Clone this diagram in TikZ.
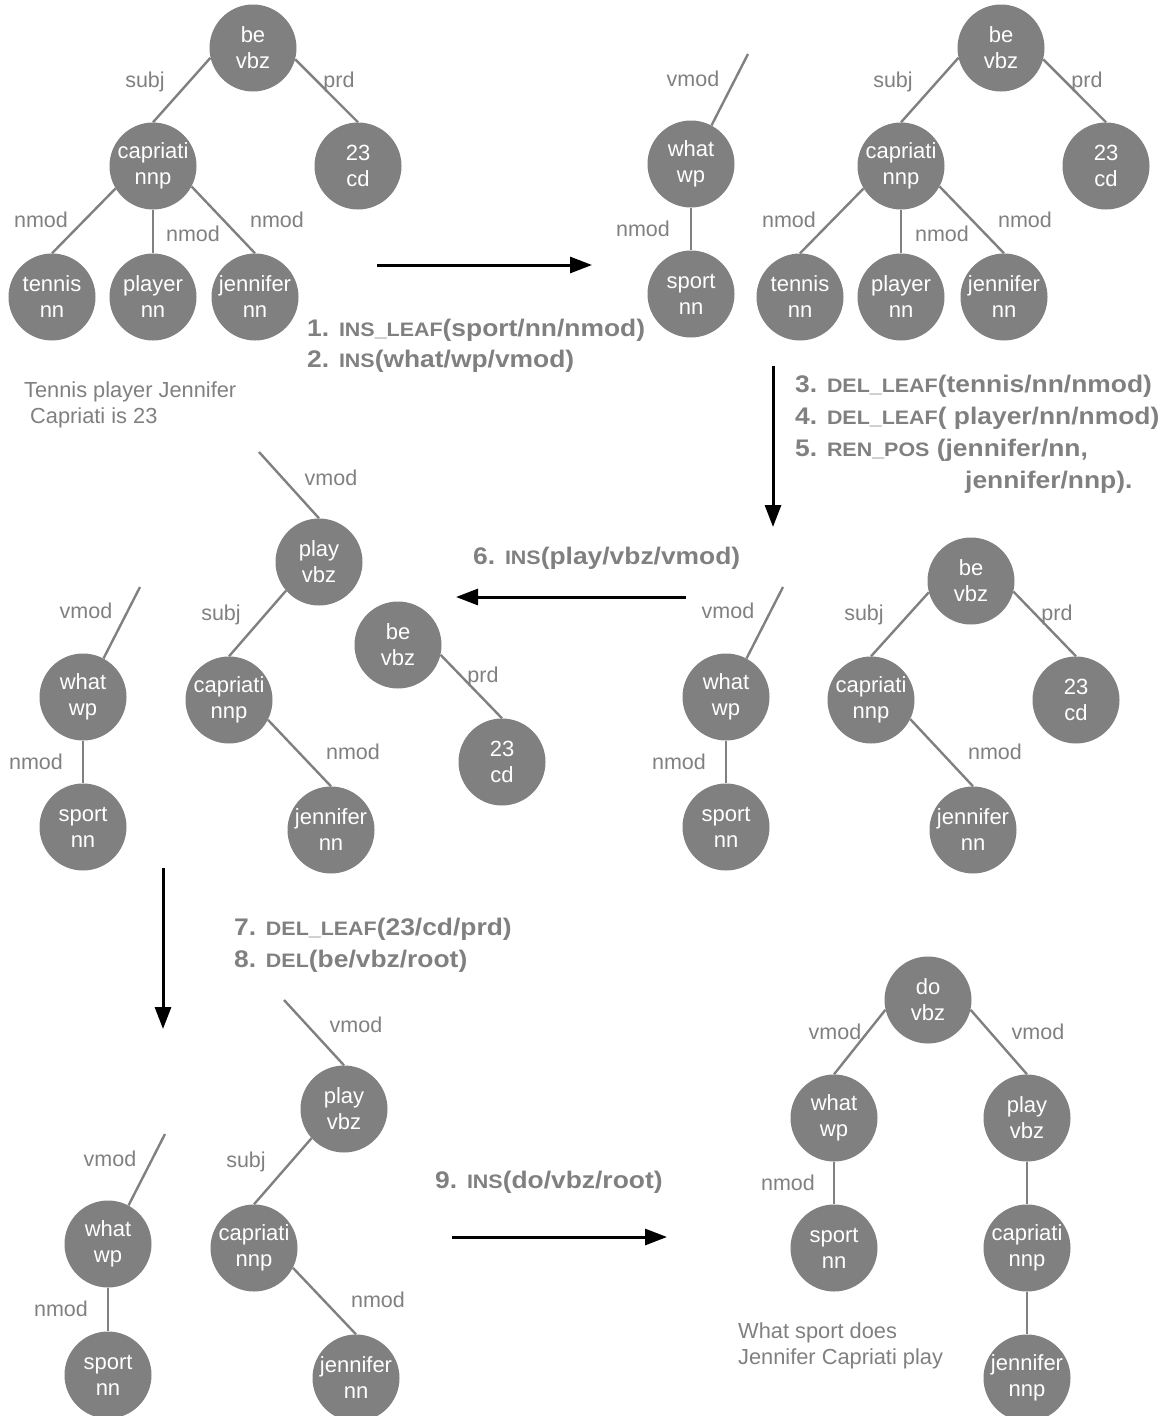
\documentclass[tikz,border=0pt]{standalone}
\usepackage{fontspec}
\setmainfont{Liberation Sans}
\usepackage{xcolor}
\usepackage{graphicx}
\usetikzlibrary{arrows.meta, positioning}
\definecolor{treegray}{HTML}{808080}
\definecolor{labgray}{HTML}{808080}
\newcommand{\opname}[1]{{\fontsize{19.5}{19.5}\selectfont #1}}
\newcommand{\opline}[1]{\scalebox{1.1}[1]{#1}}

\begin{document}
\begin{tikzpicture}[
		x=1pt, y=-1pt,
		tnode/.style={
			circle,
			fill=treegray,
			text=white,
			minimum size=87pt,
			inner sep=0pt,
			align=center,
			font=\fontsize{22}{26}\selectfont
		},
		lab/.style={
			text=labgray,
			inner sep=0pt,
			font=\fontsize{21.5}{24}\selectfont
		},
		edge/.style={draw=treegray, line width=2.4pt},
		optext/.style={
			anchor=west,
			text=labgray,
			inner sep=0pt,
			font=\fontsize{24}{30}\selectfont\bfseries
		},
		sentence/.style={
			anchor=west,
			align=left,
			text=labgray,
			inner sep=0pt,
			font=\fontsize{21.8}{26}\selectfont
		},
		flow/.style={draw=black, line width=3pt, -{Triangle[length=22pt,width=16pt]}}
		]
		
		\useasboundingbox (0,0) rectangle (1171,1416);
		
		% Tree 1: source sentence
		\node[tnode] (be1) at (253,48) {be\\vbz};
		\node[tnode] (cap1) at (153,166) {capriati\\nnp};
		\node[tnode] (num1) at (358,166) {23\\cd};
		\node[tnode] (ten1) at (52,297) {tennis\\nn};
		\node[tnode] (pla1) at (153,297) {player\\nn};
		\node[tnode] (jen1) at (255,297) {jennifer\\nn};
		\draw[edge] (be1.193) -- (cap1.north);
		\draw[edge] (be1.345) -- (num1.north);
		\draw[edge] (cap1.211) -- (ten1.north);
		\draw[edge] (cap1.south) -- (pla1.north);
		\draw[edge] (cap1.332) -- (jen1.north);
		\node[lab] (l1a) at (145,82) {subj};
		\node[lab] (l1b) at (339,82) {prd};
		\node[lab] (l1c) at (41,220) {nmod};
		\node[lab] (l1d) at (193,234) {nmod};
		\node[lab] (l1e) at (277,220) {nmod};
		\node[sentence] (src) at (24,405) {Tennis player Jennifer\\\hspace{6pt}Capriati is 23};
		
		% Step 1-2
		\coordinate (a1s) at (377,265);
		\coordinate (a1e) at (592,265);
		\draw[flow] (a1s) -- (a1e);
		\node[optext] (op1) at (307,330) {\opline{1. \opname{INS\_LEAF}(sport/nn/nmod)}};
		\node[optext] (op2) at (307,361) {\opline{2. \opname{INS}(what/wp/vmod)}};
		
		% Tree 2
		\node[tnode] (wha2) at (691,164) {what\\wp};
		\node[tnode] (spo2) at (691,294) {sport\\nn};
		\coordinate (top2) at (748,54);
		\draw[edge] (wha2.62) -- (top2);
		\draw[edge] (wha2.south) -- (spo2.north);
		\node[lab] (l2a) at (693,79) {vmod};
		\node[lab] (l2b) at (643,229) {nmod};
		\node[tnode] (be2) at (1001,48) {be\\vbz};
		\node[tnode] (cap2) at (901,166) {capriati\\nnp};
		\node[tnode] (num2) at (1106,166) {23\\cd};
		\node[tnode] (ten2) at (800,297) {tennis\\nn};
		\node[tnode] (pla2) at (901,297) {player\\nn};
		\node[tnode] (jen2) at (1004,297) {jennifer\\nn};
		\draw[edge] (be2.193) -- (cap2.north);
		\draw[edge] (be2.345) -- (num2.north);
		\draw[edge] (cap2.211) -- (ten2.north);
		\draw[edge] (cap2.south) -- (pla2.north);
		\draw[edge] (cap2.332) -- (jen2.north);
		\node[lab] (l2c) at (893,82) {subj};
		\node[lab] (l2d) at (1087,82) {prd};
		\node[lab] (l2e) at (789,220) {nmod};
		\node[lab] (l2f) at (942,234) {nmod};
		\node[lab] (l2g) at (1025,220) {nmod};
		
		% Step 3-5
		\coordinate (a2s) at (773,366);
		\coordinate (a2e) at (773,527);
		\draw[flow] (a2s) -- (a2e);
		\node[optext] (op3) at (795,386) {\opline{3. \opname{DEL\_LEAF}(tennis/nn/nmod)}};
		\node[optext] (op4) at (795,418) {\opline{4. \opname{DEL\_LEAF}( player/nn/nmod)}};
		\node[optext] (op5) at (795,450) {\opline{5. \opname{REN\_POS} (jennifer/nn,}};
		\node[optext] (op5b) at (965,482) {\opline{jennifer/nnp).}};
		
		% Tree 3
		\node[tnode] (wha3) at (726,697) {what\\wp};
		\node[tnode] (spo3) at (726,827) {sport\\nn};
		\coordinate (top3) at (783,587);
		\draw[edge] (wha3.62) -- (top3);
		\draw[edge] (wha3.south) -- (spo3.north);
		\node[lab] (l3a) at (728,611) {vmod};
		\node[lab] (l3b) at (679,762) {nmod};
		\node[tnode] (be3) at (971,581) {be\\vbz};
		\node[tnode] (cap3) at (871,700) {capriati\\nnp};
		\node[tnode] (num3) at (1076,700) {23\\cd};
		\node[tnode] (jen3) at (973,830) {jennifer\\nn};
		\draw[edge] (be3.195) -- (cap3.north);
		\draw[edge] (be3.346) -- (num3.north);
		\draw[edge] (cap3.334) -- (jen3.north);
		\node[lab] (l3c) at (864,615) {subj};
		\node[lab] (l3d) at (1057,615) {prd};
		\node[lab] (l3e) at (995,752) {nmod};
		
		% Step 6
		\coordinate (a3s) at (686,597);
		\coordinate (a3e) at (456,597);
		\draw[flow] (a3s) -- (a3e);
		\node[optext] (op6) at (473,558) {\opline{6. \opname{INS}(play/vbz/vmod)}};
		
		% Tree 4
		\node[tnode] (pla4) at (319,562) {play\\vbz};
		\node[tnode] (cap4) at (229,700) {capriati\\nnp};
		\node[tnode] (jen4) at (331,830) {jennifer\\nn};
		\coordinate (top4a) at (259,452);
		\draw[edge] (top4a) -- (pla4.north);
		\draw[edge] (pla4.221) -- (cap4.north);
		\draw[edge] (cap4.333) -- (jen4.north);
		\node[lab] (l4a) at (331,478) {vmod};
		\node[lab] (l4b) at (221,615) {subj};
		\node[lab] (l4c) at (353,752) {nmod};
		\node[tnode] (wha4) at (83,697) {what\\wp};
		\node[tnode] (spo4) at (83,827) {sport\\nn};
		\coordinate (top4b) at (140,587);
		\draw[edge] (wha4.62) -- (top4b);
		\draw[edge] (wha4.south) -- (spo4.north);
		\node[lab] (l4d) at (86,611) {vmod};
		\node[lab] (l4e) at (36,762) {nmod};
		\node[tnode] (be4) at (398,645) {be\\vbz};
		\node[tnode] (num4) at (502,762) {23\\cd};
		\draw[edge] (be4.347) -- (num4.north);
		\node[lab] (l4f) at (483,677) {prd};
		
		% Step 7-8
		\coordinate (a4s) at (163,868);
		\coordinate (a4e) at (163,1029);
		\draw[flow] (a4s) -- (a4e);
		\node[optext] (op7) at (234,929) {\opline{7. \opname{DEL\_LEAF}(23/cd/prd)}};
		\node[optext] (op8) at (234,961) {\opline{8. \opname{DEL}(be/vbz/root)}};
		
		% Tree 5
		\node[tnode] (pla5) at (344,1109) {play\\vbz};
		\node[tnode] (cap5) at (254,1248) {capriati\\nnp};
		\node[tnode] (jen5) at (356,1378) {jennifer\\nn};
		\coordinate (top5a) at (284,1000);
		\draw[edge] (top5a) -- (pla5.north);
		\draw[edge] (pla5.222) -- (cap5.north);
		\draw[edge] (cap5.333) -- (jen5.north);
		\node[lab] (l5a) at (356,1025) {vmod};
		\node[lab] (l5b) at (246,1162) {subj};
		\node[lab] (l5c) at (378,1300) {nmod};
		\node[tnode] (wha5) at (108,1244) {what\\wp};
		\node[tnode] (spo5) at (108,1375) {sport\\nn};
		\coordinate (top5b) at (165,1134);
		\draw[edge] (wha5.62) -- (top5b);
		\draw[edge] (wha5.south) -- (spo5.north);
		\node[lab] (l5d) at (110,1159) {vmod};
		\node[lab] (l5e) at (61,1309) {nmod};
		
		% Step 9
		\coordinate (a5s) at (452,1237);
		\coordinate (a5e) at (667,1237);
		\draw[flow] (a5s) -- (a5e);
		\node[optext] (op9) at (435,1182) {\opline{9. \opname{INS}(do/vbz/root)}};
		
		% Tree 6: target question
		\node[tnode] (do6) at (928,1000) {do\\vbz};
		\node[tnode] (wha6) at (834,1118) {what\\wp};
		\node[tnode] (pla6) at (1027,1118) {play\\vbz};
		\node[tnode] (spo6) at (834,1248) {sport\\nn};
		\node[tnode] (cap6) at (1027,1248) {capriati\\nnp};
		\node[tnode] (jen6) at (1027,1378) {jennifer\\nnp};
		\draw[edge] (do6.193) -- (wha6.north);
		\draw[edge] (do6.347) -- (pla6.north);
		\draw[edge] (wha6.south) -- (spo6.north);
		\draw[edge] (pla6.south) -- (cap6.north);
		\draw[edge] (cap6.south) -- (jen6.north);
		\node[lab] (l6a) at (835,1032) {vmod};
		\node[lab] (l6b) at (1038,1032) {vmod};
		\node[lab] (l6c) at (788,1183) {nmod};
		\node[sentence] (tgt) at (738,1346) {What sport does\\Jennifer Capriati play};
		
	\end{tikzpicture}
\end{document}
